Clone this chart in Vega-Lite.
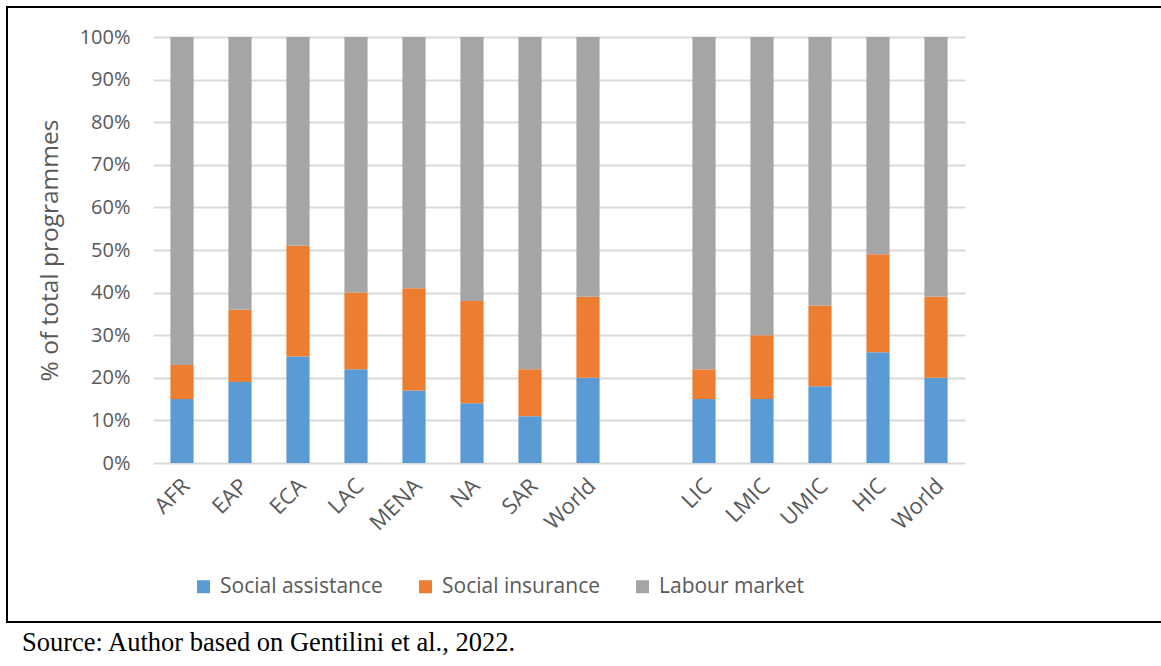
{
  "$schema": "https://vega.github.io/schema/vega-lite/v6.json",
  "width": 1154,
  "height": 615,
  "autosize": {"type": "none"},
  "padding": {"left": 7, "top": 7, "right": 0, "bottom": 44},
  "background": "white",
  "title": {
    "text": "Source: Author based on Gentilini et al., 2022.",
    "orient": "bottom",
    "anchor": "start",
    "frame": "group",
    "dx": 15,
    "offset": 8,
    "baseline": "top",
    "font": "Liberation Serif",
    "fontSize": 26.5,
    "fontWeight": "normal",
    "color": "black"
  },
  "data": {
    "values": [
      {"region": "AFR", "type": "Social assistance", "rank": 1, "share": 0.15},
      {"region": "AFR", "type": "Social insurance", "rank": 2, "share": 0.08},
      {"region": "AFR", "type": "Labour market", "rank": 3, "share": 0.77},
      {"region": "EAP", "type": "Social assistance", "rank": 1, "share": 0.19},
      {"region": "EAP", "type": "Social insurance", "rank": 2, "share": 0.17},
      {"region": "EAP", "type": "Labour market", "rank": 3, "share": 0.64},
      {"region": "ECA", "type": "Social assistance", "rank": 1, "share": 0.25},
      {"region": "ECA", "type": "Social insurance", "rank": 2, "share": 0.26},
      {"region": "ECA", "type": "Labour market", "rank": 3, "share": 0.49},
      {"region": "LAC", "type": "Social assistance", "rank": 1, "share": 0.22},
      {"region": "LAC", "type": "Social insurance", "rank": 2, "share": 0.18},
      {"region": "LAC", "type": "Labour market", "rank": 3, "share": 0.60},
      {"region": "MENA", "type": "Social assistance", "rank": 1, "share": 0.17},
      {"region": "MENA", "type": "Social insurance", "rank": 2, "share": 0.24},
      {"region": "MENA", "type": "Labour market", "rank": 3, "share": 0.59},
      {"region": "NA", "type": "Social assistance", "rank": 1, "share": 0.14},
      {"region": "NA", "type": "Social insurance", "rank": 2, "share": 0.24},
      {"region": "NA", "type": "Labour market", "rank": 3, "share": 0.62},
      {"region": "SAR", "type": "Social assistance", "rank": 1, "share": 0.11},
      {"region": "SAR", "type": "Social insurance", "rank": 2, "share": 0.11},
      {"region": "SAR", "type": "Labour market", "rank": 3, "share": 0.78},
      {"region": "World1", "type": "Social assistance", "rank": 1, "share": 0.20},
      {"region": "World1", "type": "Social insurance", "rank": 2, "share": 0.19},
      {"region": "World1", "type": "Labour market", "rank": 3, "share": 0.61},
      {"region": "LIC", "type": "Social assistance", "rank": 1, "share": 0.15},
      {"region": "LIC", "type": "Social insurance", "rank": 2, "share": 0.07},
      {"region": "LIC", "type": "Labour market", "rank": 3, "share": 0.78},
      {"region": "LMIC", "type": "Social assistance", "rank": 1, "share": 0.15},
      {"region": "LMIC", "type": "Social insurance", "rank": 2, "share": 0.15},
      {"region": "LMIC", "type": "Labour market", "rank": 3, "share": 0.70},
      {"region": "UMIC", "type": "Social assistance", "rank": 1, "share": 0.18},
      {"region": "UMIC", "type": "Social insurance", "rank": 2, "share": 0.19},
      {"region": "UMIC", "type": "Labour market", "rank": 3, "share": 0.63},
      {"region": "HIC", "type": "Social assistance", "rank": 1, "share": 0.26},
      {"region": "HIC", "type": "Social insurance", "rank": 2, "share": 0.23},
      {"region": "HIC", "type": "Labour market", "rank": 3, "share": 0.51},
      {"region": "World2", "type": "Social assistance", "rank": 1, "share": 0.20},
      {"region": "World2", "type": "Social insurance", "rank": 2, "share": 0.19},
      {"region": "World2", "type": "Labour market", "rank": 3, "share": 0.61}
    ]
  },
  "mark": {"type": "bar"},
  "encoding": {
    "x": {
      "field": "region",
      "type": "nominal",
      "scale": {
        "domain": ["AFR", "EAP", "ECA", "LAC", "MENA", "NA", "SAR", "World1", "gap", "LIC", "LMIC", "UMIC", "HIC", "World2"],
        "range": [146, 958],
        "paddingInner": 0.6,
        "paddingOuter": 0.3
      },
      "axis": {
        "title": null,
        "orient": "bottom",
        "offset": -159,
        "domain": false,
        "ticks": false,
        "grid": false,
        "labelAngle": -45,
        "labelPadding": 12,
        "labelOffset": -3,
        "labelFont": "Open Sans",
        "labelFontSize": 22,
        "labelColor": "#595959",
        "labelExpr": "datum.value == 'gap' ? '' : (datum.value == 'World1' || datum.value == 'World2' ? 'World' : datum.value)"
      }
    },
    "y": {
      "field": "share",
      "type": "quantitative",
      "stack": "zero",
      "scale": {"domain": [0, 1], "range": [456, 30], "nice": false},
      "axis": {
        "title": "% of total programmes",
        "offset": -131,
        "domain": false,
        "ticks": false,
        "grid": true,
        "gridColor": "#d9d9d9",
        "gridWidth": 2,
        "values": [0, 0.1, 0.2, 0.3, 0.4, 0.5, 0.6, 0.7, 0.8, 0.9, 1],
        "format": ".0%",
        "labelPadding": 8,
        "labelFont": "Open Sans",
        "labelFontSize": 20,
        "labelColor": "#595959",
        "titleFont": "Open Sans",
        "titleFontSize": 24.5,
        "titleFontWeight": "normal",
        "titleColor": "#595959",
        "titleX": -88,
        "titleBaseline": "middle"
      }
    },
    "color": {
      "field": "type",
      "type": "nominal",
      "scale": {
        "domain": ["Social assistance", "Social insurance", "Labour market"],
        "range": ["#5b9bd5", "#ed7d31", "#a5a5a5"]
      },
      "legend": {
        "title": null,
        "orient": "none",
        "direction": "horizontal",
        "legendX": 186,
        "legendY": 569,
        "symbolType": "square",
        "symbolSize": 169,
        "symbolStrokeWidth": 0,
        "labelFont": "Open Sans",
        "labelFontSize": 21,
        "labelColor": "#595959",
        "labelLimit": 0,
        "labelOffset": 6,
        "columnPadding": 32,
        "padding": 0
      }
    },
    "order": {"field": "rank", "type": "quantitative"}
  },
  "config": {
    "view": {"stroke": "black", "strokeWidth": 2, "strokeDash": [1154, 615, 1769]},
    "axis": {"labelFont": "Open Sans"}
  }
}
